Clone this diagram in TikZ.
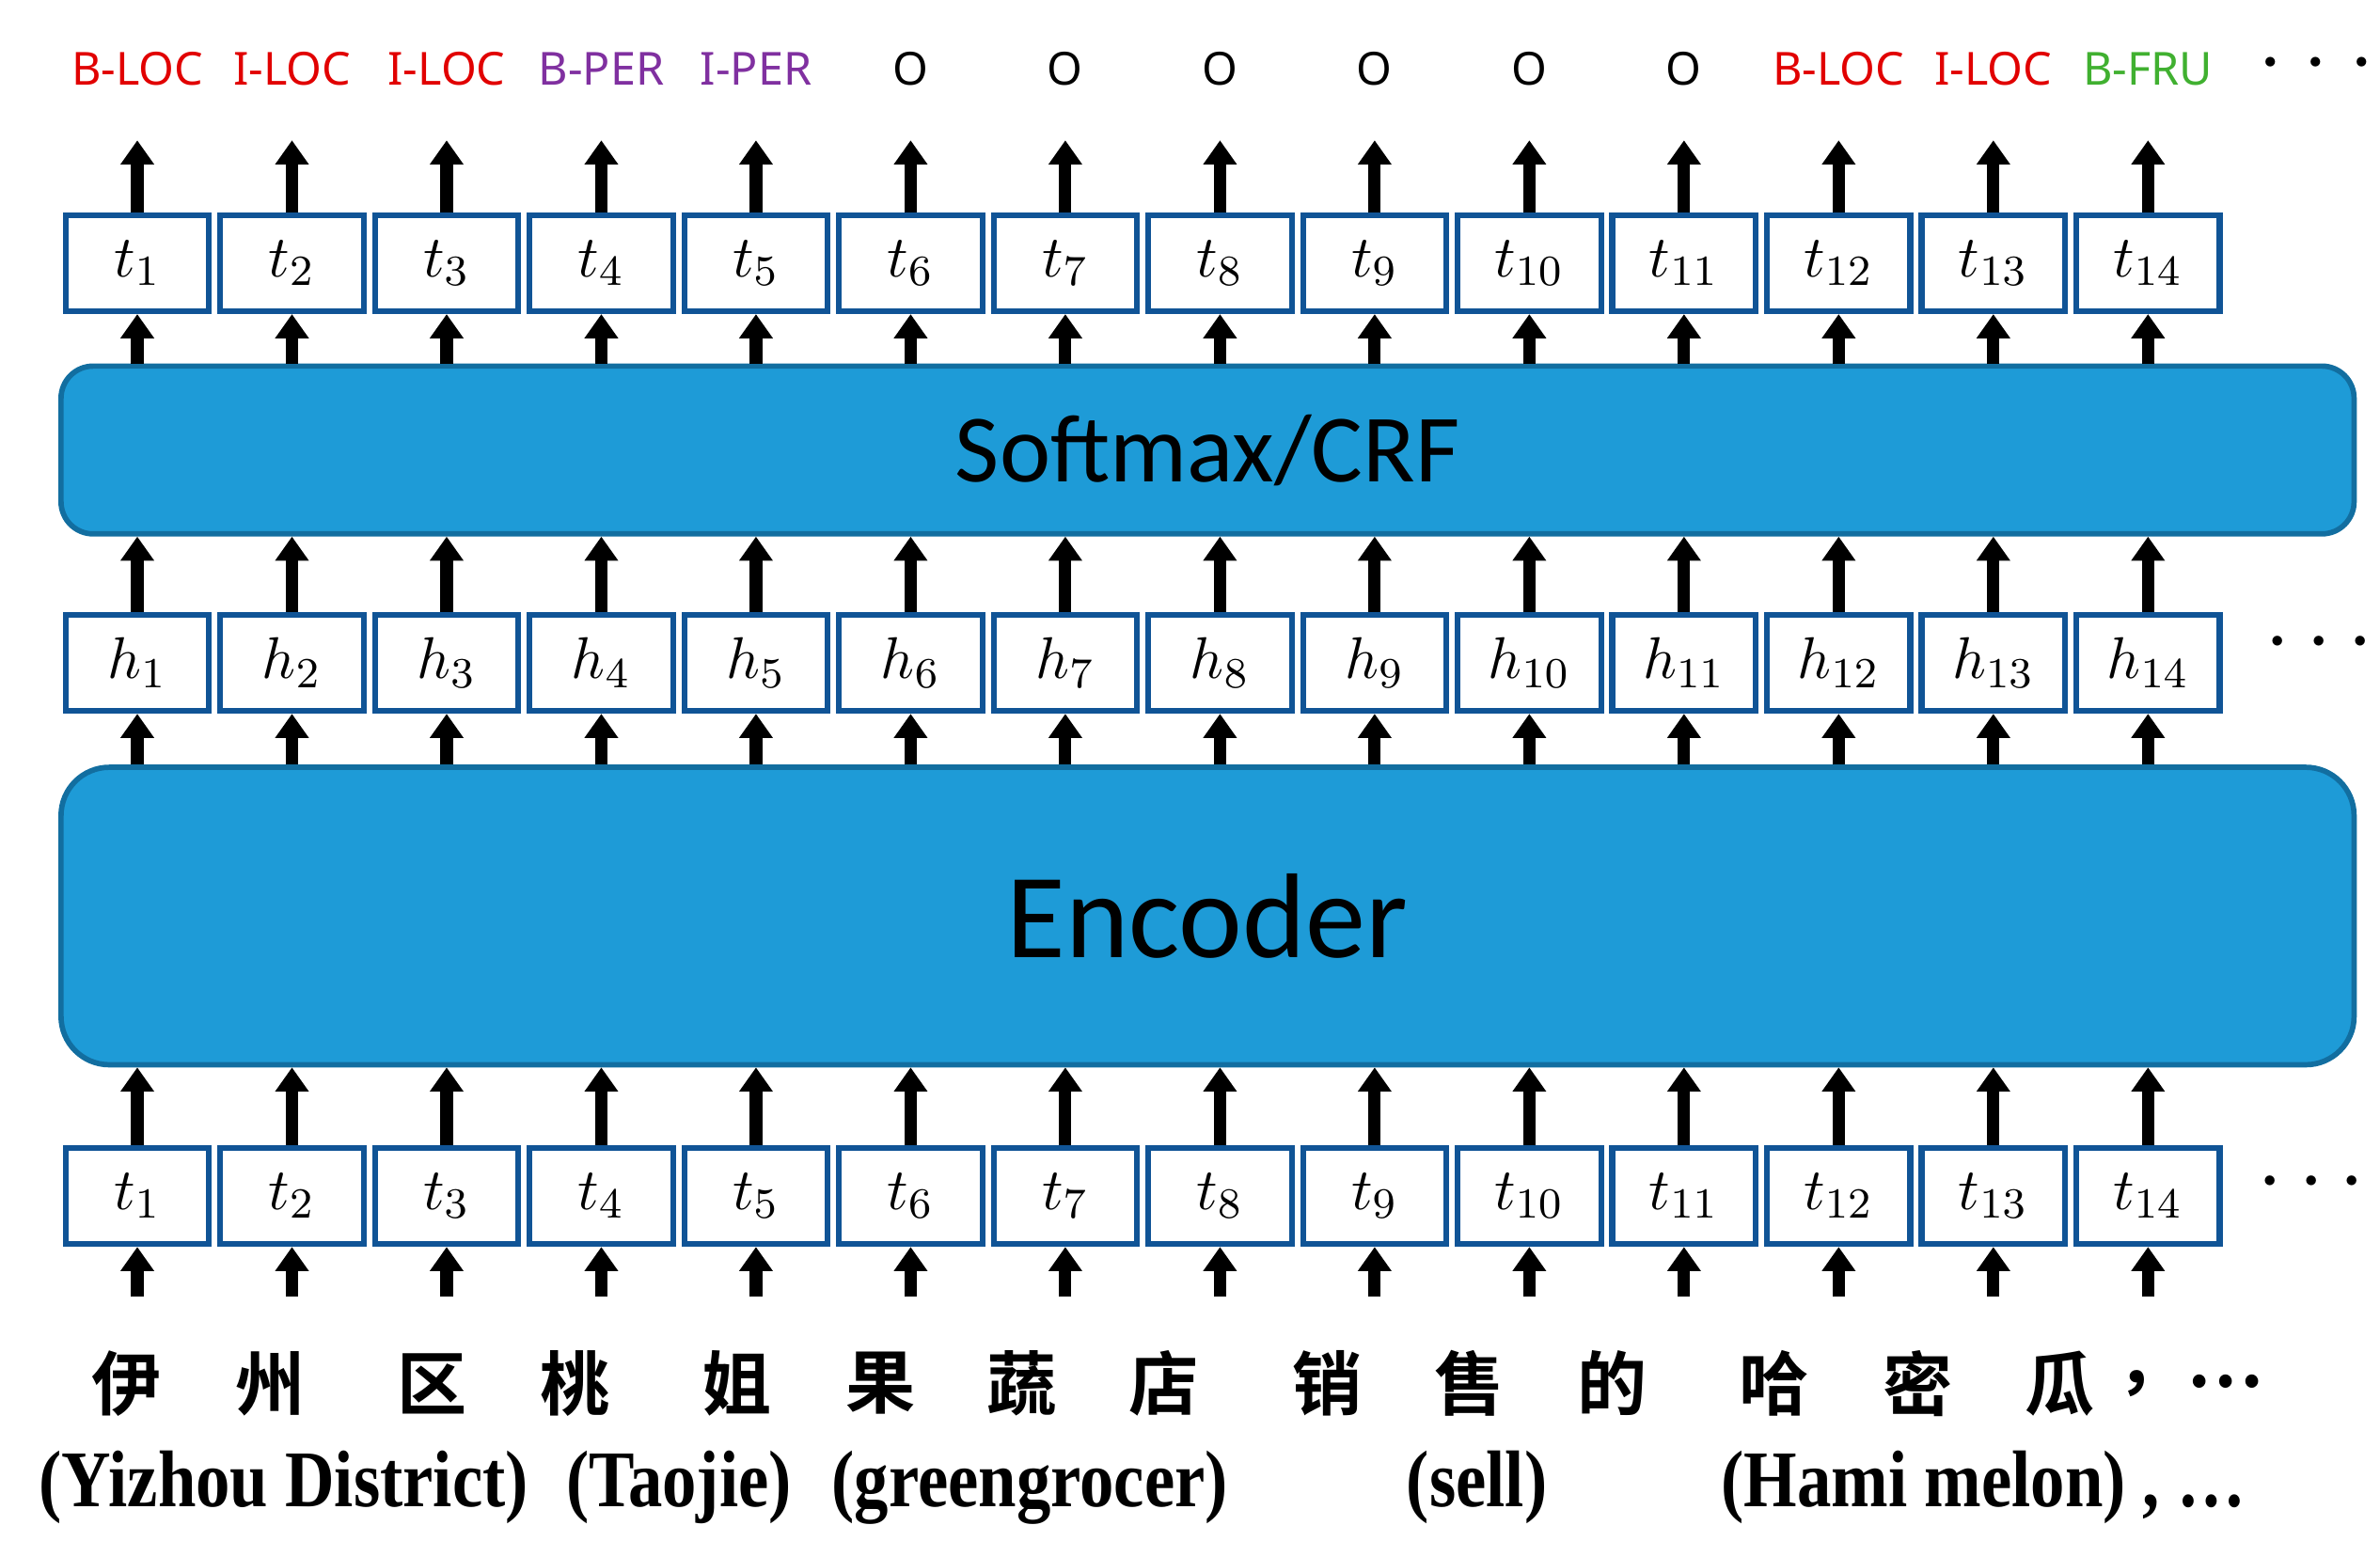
\documentclass[tikz,border=0pt]{standalone}
\usepackage{fontspec}
\setmainfont{Liberation Serif}
\newfontfamily\cjk{Noto Sans CJK SC}[BoldFont={* Bold}]
\newfontfamily\lab{Noto Sans}
\newfontfamily\calfont{Carlito}
\usetikzlibrary{arrows.meta}
\definecolor{bx}{RGB}{16,84,150}
\definecolor{fillb}{RGB}{30,155,215}
\definecolor{edgeb}{RGB}{18,110,160}
\definecolor{rd}{RGB}{225,0,0}
\definecolor{pu}{RGB}{128,48,160}
\definecolor{gr}{RGB}{64,176,48}
\begin{document}
\begin{tikzpicture}[x=0.1mm,y=-0.1mm,
  cell/.style={draw=bx,line width=1.1pt,fill=white,minimum width=94*0.1mm,minimum height=63*0.1mm,inner sep=0pt,font=\fontsize{11}{11}\selectfont},
  big/.style={draw=edgeb,line width=1pt,fill=fillb,inner sep=0pt},
  up/.style={line width=2.3pt,-{Triangle[width=6pt,length=4.5pt]}},
  tag/.style={font=\lab\fontsize{8.5}{9}\selectfont},
  zh/.style={font=\cjk\bfseries\fontsize{13}{13}\selectfont},
  en/.style={font=\bfseries\fontsize{15}{15}\selectfont,xscale=0.85}]
\useasboundingbox (0,0) rectangle (1560,1010);
\node[big,rounded corners=6pt,minimum width=1503*0.1mm,minimum height=110*0.1mm] (sm) at (791.5,295) {\calfont\fontsize{18}{18}\selectfont Softmax/CRF};
\node[big,rounded corners=9pt,minimum width=1503*0.1mm,minimum height=195*0.1mm] (enc) at (791.5,600.5) {\calfont\fontsize{22.5}{22}\selectfont Encoder};
\foreach \i in {1,...,14}{
  \pgfmathsetmacro\xx{90+(\i-1)*101.38}
  \node[cell] (o\i) at (\xx,172.5) {$t_{\i}$};
  \node[cell] (h\i) at (\xx,434.5) {$h_{\i}$};
  \node[cell] (b\i) at (\xx,784) {$t_{\i}$};
  \coordinate (lt\i) at (\xx,92);
  \coordinate (in\i) at (\xx,850);
  \draw[up] (o\i.north) -- (lt\i);
  \draw[up] (sm.north -| o\i) -- (o\i.south);
  \draw[up] (h\i.north) -- (sm.south -| h\i);
  \draw[up] (enc.north -| h\i) -- (h\i.south);
  \draw[up] (b\i.north) -- (enc.south -| b\i);
  \draw[up] (in\i) -- (b\i.south);
}
\foreach \i/\t/\c in {1/B-LOC/rd,2/I-LOC/rd,3/I-LOC/rd,4/B-PER/pu,5/I-PER/pu,6/O/black,7/O/black,8/O/black,9/O/black,10/O/black,11/O/black,12/B-LOC/rd,13/I-LOC/rd,14/B-FRU/gr}
  \node[tag,text=\c] (g\i) at (90+\i*101.38-101.38,45) {\t};
\node[tag] (gd) at (1518,45) {\cjk ···};
\node[font=\fontsize{18}{18}\selectfont] (hd) at (1520,422) {$\cdots$};
\node[font=\fontsize{18}{18}\selectfont] (bd) at (1515,776) {$\cdots$};
\foreach \x/\c [count=\k] in {83/伊,177/州,283/区,377/桃,483/姐,577/果,670/蔬,763/店,870/销,963/售,1057/的,1163/哈,1257/密,1350/瓜}
  \node[zh] (z\k) at (\x,907) {\c};
\node[zh,anchor=west] (zend) at (1375,907) {，…};
\node[en] (e1) at (186,975) {(Yizhou District)};
\node[en] (e2) at (445,975) {(Taojie)};
\node[en] (e3) at (675,975) {(greengrocer)};
\node[en] (e4) at (968,975) {(sell)};
\node[en] (e5) at (1300,975) {(Hami melon) , …};
\end{tikzpicture}
\end{document}
